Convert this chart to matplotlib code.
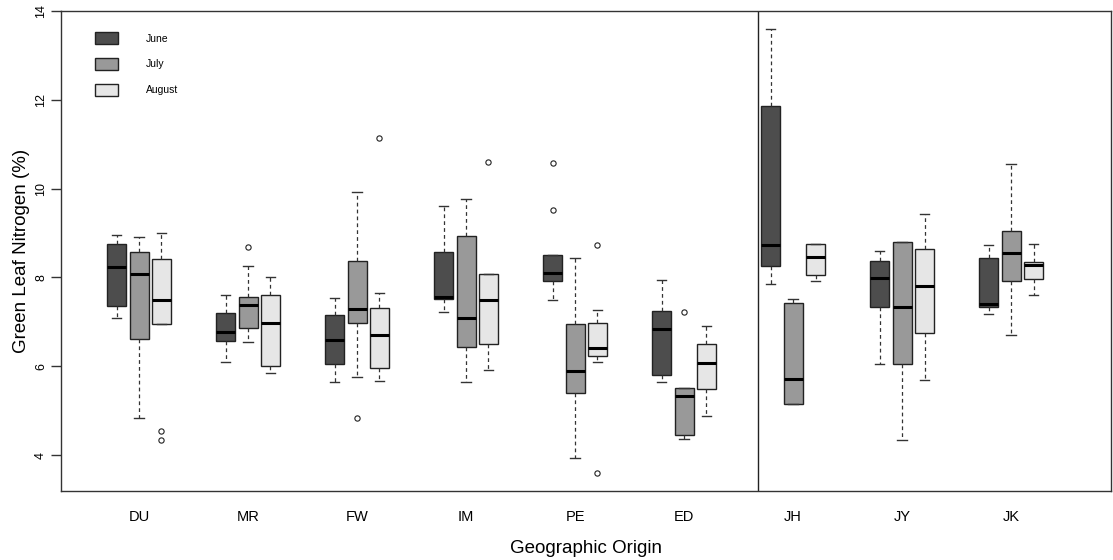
import numpy as np
import matplotlib; matplotlib.use("Agg"); import matplotlib.pyplot as plt
from matplotlib.patches import Patch

plt.rcParams["font.family"] = ["Liberation Sans", "DejaVu Sans"]

origins = ["DU", "MR", "FW", "IM", "PE", "ED", "JH", "JY", "JK"]
months = ["June", "July", "August"]
fills = ["#4d4d4d", "#999999", "#e6e6e6"]

# per box: whisker low, q1, median, q3, whisker high (order June, July, August within each origin)
whislo = [7.09, 4.83, 6.94,  6.09, 6.55, 5.85,  5.65, 5.76, 5.67,
          7.23, 5.65, 5.91,  7.49, 3.93, 6.10,  5.65, 4.36, 4.87,
          7.86, 5.14, 7.93,  6.05, 4.34, 5.69,  7.18, 6.70, 7.61]
q1 = [7.36, 6.62, 6.94,  6.56, 6.87, 6.00,  6.05, 6.97, 5.95,
      7.51, 6.43, 6.51,  7.93, 5.39, 6.23,  5.80, 4.44, 5.49,
      8.26, 5.16, 8.05,  7.33, 6.05, 6.74,  7.33, 7.91, 7.97]
med = [8.23, 8.08, 7.50,  6.77, 7.38, 6.98,  6.60, 7.29, 6.70,
       7.56, 7.09, 7.49,  8.11, 5.89, 6.41,  6.84, 5.33, 6.07,
       8.73, 5.71, 8.46,  7.99, 7.33, 7.80,  7.40, 8.56, 8.29]
q3 = [8.75, 8.58, 8.41,  7.19, 7.55, 7.61,  7.15, 8.37, 7.32,
      8.58, 8.93, 8.07,  8.50, 6.94, 6.98,  7.24, 5.50, 6.49,
      11.86, 7.42, 8.76,  8.37, 8.79, 8.63,  8.43, 9.05, 8.35]
whishi = [8.95, 8.90, 9.00,  7.61, 8.26, 8.01,  7.53, 9.93, 7.66,
          9.61, 9.76, 8.07,  8.50, 8.43, 7.27,  7.95, 5.50, 6.91,
          13.59, 7.51, 8.76,  8.60, 8.79, 9.42,  8.73, 10.55, 8.75]
fliers = [[], [], [4.55, 4.34],  [], [8.69], [],  [], [4.84], [11.13],
          [], [], [10.59],  [10.57, 9.51], [], [8.74, 3.59],  [], [7.21], [],
          [], [], [],  [], [], [],  [], [], []]

stats = []
for i in range(len(med)):
    stats.append(dict(whislo=whislo[i], q1=q1[i], med=med[i], q3=q3[i],
                      whishi=whishi[i], fliers=fliers[i]))

offs = [-0.206, 0.0, 0.206]
pos = [g + 1 + offs[m] for g in range(len(origins)) for m in range(3)]

fig = plt.figure(figsize=(11.13, 5.6), dpi=100)
ax = fig.add_axes([61/1113, 1-491/560, 1050/1113, 480/560])

bp = ax.bxp(stats, positions=pos, widths=0.175, patch_artist=True,
            boxprops=dict(edgecolor="#222222", linewidth=1.0),
            medianprops=dict(color="black", linewidth=2.2),
            whiskerprops=dict(color="#333333", linewidth=0.9, linestyle=(0, (3, 2.5))),
            capprops=dict(color="#333333", linewidth=1.0),
            flierprops=dict(marker="o", markersize=3.8, markerfacecolor="white",
                            markeredgecolor="#222222", markeredgewidth=0.8))
for i, b in enumerate(bp["boxes"]):
    b.set_facecolor(fills[i % 3])
for c in bp["caps"]:
    x0, x1 = c.get_xdata()
    xm = (x0 + x1) / 2
    c.set_xdata([xm - 0.045, xm + 0.045])

ax.axvline(6.68, color="#222222", lw=1.0)

ax.set_xlim(0.284, 9.917)
ax.set_ylim(3.19, 14.0)
ax.set_xticks(range(1, len(origins) + 1))
ax.set_xticklabels(origins, fontsize=10.5)
ax.tick_params(axis="x", length=0, pad=14)
ax.set_yticks([4, 6, 8, 10, 12, 14])
ax.set_yticklabels(["4", "6", "8", "10", "12", "14"], rotation=90, va="center", fontsize=9)
ax.tick_params(axis="y", length=7, pad=3, width=1.0, color="#333333")
for s in ax.spines.values():
    s.set_color("#333333")
    s.set_linewidth(1.0)

ax.set_ylabel("Green Leaf Nitrogen (%)", fontsize=13.5, labelpad=4)
ax.set_xlabel("Geographic Origin", fontsize=13.5, labelpad=11)

handles = [Patch(facecolor=fills[m], edgecolor="#222222", lw=1.0) for m in range(3)]
ax.legend(handles, months, loc="upper left", bbox_to_anchor=(0.023, 0.975), frameon=False,
          fontsize=7.5, handlelength=2.3, handleheight=1.4, handletextpad=2.6,
          labelspacing=1.3)

fig.savefig("out.png", dpi=100)
